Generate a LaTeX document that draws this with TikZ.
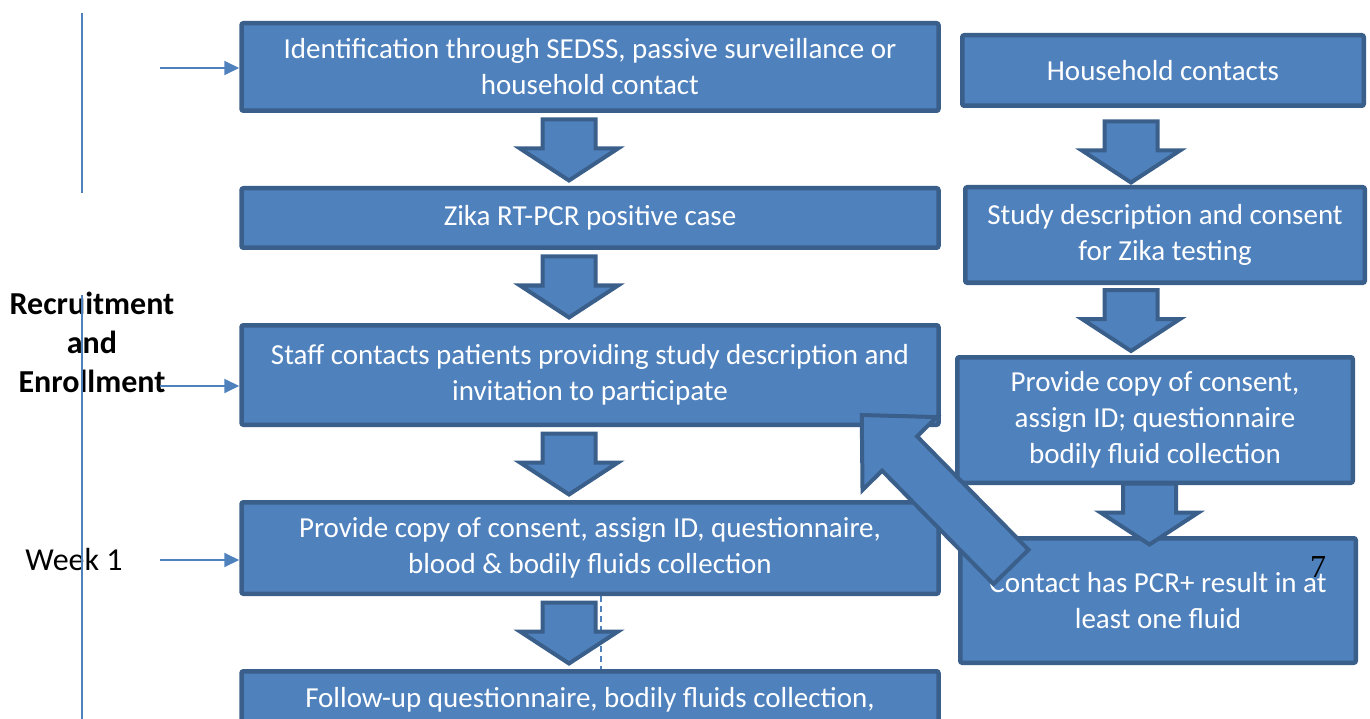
\documentclass[tikz,border=0pt]{standalone}
\usepackage{fontspec}
\setmainfont{Carlito}
\newfontfamily\pgnumfont{Liberation Serif}
\usetikzlibrary{positioning,arrows.meta,calc}
\definecolor{boxfill}{HTML}{4F81BD}
\definecolor{boxline}{HTML}{3A5F8B}

\begin{document}
\begin{tikzpicture}[
  x=1pt, y=-1pt,
  node distance=73pt,
  box/.style={draw=boxline, line width=4.5pt, rounded corners=2pt, fill=boxfill, text=white, align=center, inner sep=2pt, font=\fontsize{29}{36}\selectfont},
  phase/.style={align=center, font=\fontsize{32}{39}\selectfont\bfseries},
  week/.style={align=center, font=\fontsize{32}{39}\selectfont},
  harr/.style={draw=boxfill, line width=2pt, -{Triangle[length=15pt,width=14pt]}},
  vline/.style={draw=boxfill, line width=2pt},
  dline/.style={draw=boxfill, line width=1.5pt, dash pattern=on 6pt off 4pt},
  dnarrow/.pic={\draw[boxline, line width=4pt, fill=boxfill] (-26.5,-30) -- (26.5,-30) -- (26.5,-1) -- (49,-1) -- (0,31) -- (-49,-1) -- (-26.5,-1) -- cycle;},
  backarrow/.pic={\draw[boxline, line width=4pt, fill=boxfill] (0,0) -- (54,52) -- (54,24.5) -- (213,24.5) -- (213,-24.5) -- (54,-24.5) -- (54,-52) -- cycle;}]
  \clip (0,0) rectangle (1370,719);
  \node[box, minimum width=697pt, minimum height=87.5pt] (id) at (590,67) {Identification through SEDSS, passive surveillance or\\household contact};
  \node[box, minimum width=697pt, minimum height=59.5pt, below=of id] (zika) {Zika RT-PCR positive case};
  \node[box, minimum width=697pt, minimum height=99.5pt, below=of zika] (staff) {Staff contacts patients providing study description and\\invitation to participate};
  \node[box, minimum width=697pt, minimum height=91.5pt, below=of staff] (consent) {Provide copy of consent, assign ID, questionnaire,\\blood \& bodily fluids collection};
  \node[box, minimum width=697pt, minimum height=57.5pt, below=of consent] (follow) {Follow-up questionnaire, bodily fluids collection,};
  \node[box, minimum width=401.5pt, minimum height=70.5pt] (hh) at (1163,70.5) {Household contacts};
  \node[box, minimum width=399.5pt, minimum height=95.5pt, below=77pt of hh, xshift=2pt] (desc) {Study description and consent\\for Zika testing};
  \node[box, minimum width=395.5pt, minimum height=125.5pt, below=70pt of desc, xshift=-10pt] (copy) {Provide copy of consent,\\assign ID; questionnaire\\bodily fluid collection};
  \node[box, minimum width=395.5pt, minimum height=124.5pt, below=51pt of copy, xshift=3pt] (pcr) {Contact has PCR+ result in at\\least one fluid};
  \node[phase] (recr) at (92,342) {Recruitment\\and\\Enrollment};
  \node[week] (wk) at (74,559) {Week 1};
  \node[font=\pgnumfont\fontsize{32}{38}\selectfont] (pgno) at (1318,567) {7};
  \draw[vline] (82,13) -- (82,193);
  \draw[vline] (82,295) -- (82,719);
  \coordinate (s1) at (160,68);
  \coordinate (s2) at (160,386);
  \coordinate (s3) at (160,560);
  \draw[harr] (s1) -- (s1 -| id.west);
  \draw[harr] (s2) -- (s2 -| staff.west);
  \draw[harr] (s3) -- (s3 -| consent.west);
  \draw[dline] ($(consent.south)+(11,0)$) -- ($(follow.north)+(11,0)$);
  \pic at ($(id.south)!.5!(zika.north)+(-21,0)$) {dnarrow};
  \pic at ($(zika.south)!.5!(staff.north)+(-21,0)$) {dnarrow};
  \pic at ($(staff.south)!.5!(consent.north)+(-21,0)$) {dnarrow};
  \pic at ($(consent.south)!.5!(follow.north)+(-21,0)$) {dnarrow};
  \pic at ($(hh.south)!.5!(desc.north)+(-33,5)$) {dnarrow};
  \pic at ($(desc.south)!.5!(copy.north)+(-29,0)$) {dnarrow};
  \pic at ($(copy.south)!.5!(pcr.north)+(-7,3)$) {dnarrow};
  \pic[rotate=-45.5] at ($(staff.south east)+(-79,-12)$) {backarrow};
\end{tikzpicture}
\end{document}
